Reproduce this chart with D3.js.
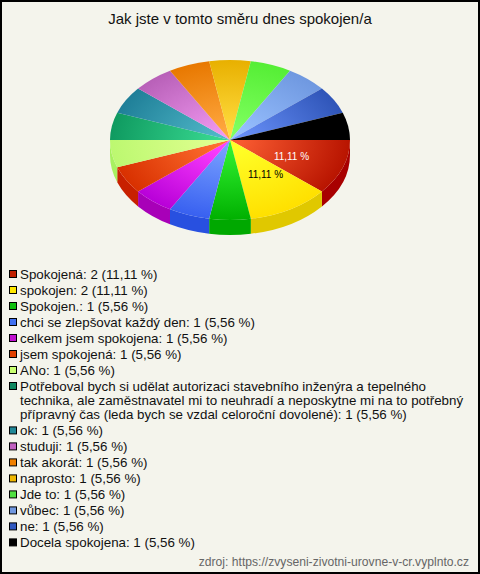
<!DOCTYPE html>
<html><head><meta charset="utf-8">
<script src="https://cdn.jsdelivr.net/npm/d3@7"></script>
<style>html,body{margin:0;padding:0;background:#f4f4ec}svg{display:block}text{font-family:"Liberation Sans",Arial,sans-serif}</style>
</head><body><div id="c"></div>
<script>
const title = "Jak jste v tomto směru dnes spokojen/a";
const source = "zdroj: https://zvyseni-zivotni-urovne-v-cr.vyplnto.cz";
const categories = ["Spokojená","spokojen","Spokojen.","chci se zlepšovat každý den","celkem jsem spokojena","jsem spokojená","ANo",
"Potřeboval bych si udělat autorizaci stavebního inženýra a tepelného technika, ale zaměstnavatel mi to neuhradí a neposkytne mi na to potřebný přípravný čas (leda bych se vzdal celoroční dovolené)",
"ok","studuji","tak akorát","naprosto","Jde to","vůbec","ne","Docela spokojena"];
const counts = [2,2,1,1,1,1,1,1,1,1,1,1,1,1,1,1];
const percents = ["11,11","11,11","5,56","5,56","5,56","5,56","5,56","5,56","5,56","5,56","5,56","5,56","5,56","5,56","5,56","5,56"];
const legendColors = ["#c02000","#ffe800","#10c010","#4070f0","#c010d0","#e04000","#c8ff70","#108860","#208898","#c060c0","#f08000","#f0b800","#50e040","#7098e0","#3058c0","#000000"];
const rimColors = ["#b81400","#ffe000","#00b000","#3860f0","#b800d8","#d83000","#bcf870","#0f9a60","#1f7f98","#b860b8","#e87800","#e8b000","#55ee35","#6f98e0","#2f55b8","#000000"];
const midColors = ["#f85a30","#ffff28","#30f030","#78a0ff","#ff40ff","#ff7030","#e0ff90","#38d890","#50b8c8","#f098f0","#ffa840","#ffdc40","#80ff60","#98c0ff","#6890f8","#000000"];
const sideColors = ["#a80000","#e0c800","#00a800","#2850e0","#a800b8","#c82000","#a8f060","#008850","#106878","#a04098","#c86000","#c89800","#40c020","#5078c0","#2040a0","#000000"];
const W=480,H=574,cx=230,cy=140,rx=120,ry=80,depth=15;
const svg=d3.select("#c").append("svg").attr("width",W).attr("height",H);
svg.append("rect").attr("x",1).attr("y",1).attr("width",W-2).attr("height",H-2).attr("fill","#f4f4ec").attr("stroke","#000").attr("stroke-width",2);
svg.append("text").attr("x",240).attr("y",24).attr("text-anchor","middle").attr("font-size",15).attr("fill","#111").text(title);
const pie=d3.pie().sort(null).startAngle(Math.PI/2).endAngle(Math.PI/2+2*Math.PI).value(d=>d);
const arcs=pie(counts);
const arc=d3.arc().innerRadius(0).outerRadius(rx);
const defs=svg.append("defs");
arcs.forEach((a,i)=>{const g=defs.append("radialGradient").attr("id","g"+i).attr("gradientUnits","userSpaceOnUse").attr("cx",0).attr("cy",0).attr("r",rx);
 g.append("stop").attr("offset",0.1).attr("stop-color",midColors[i]);
 g.append("stop").attr("offset",1).attr("stop-color",rimColors[i]);
});
const px=t=>cx+rx*Math.sin(t), py=t=>cy-ry*Math.cos(t);
const sides=svg.append("g");
arcs.forEach((a,i)=>{
 const s=Math.max(a.startAngle,Math.PI/2), e=Math.min(a.endAngle,3*Math.PI/2);
 if(e<=s)return;
 const x0=px(s),y0=py(s),x1=px(e),y1=py(e);
 const d=`M${x0},${y0}A${rx},${ry} 0 0 1 ${x1},${y1}L${x1},${y1+depth}A${rx},${ry} 0 0 0 ${x0},${y0+depth}Z`;
 sides.append("path").attr("d",d).attr("fill",sideColors[i]);
});
const topFace=svg.append("g").attr("transform",`translate(${cx},${cy}) scale(1,${ry/rx})`);
topFace.selectAll("path").data(arcs).join("path").attr("d",arc).attr("fill",(d,i)=>`url(#g${i})`);
[0,1].forEach(i=>{
 svg.append("text").attr("text-anchor","middle").attr("font-size",10).attr("fill",i?"#000":"#fff")
 .attr("x",i==0?291.5:265.5).attr("y",i==0?160:178).text(percents[i]+" %");});
const leg=svg.append("g");
let y=274;const lh=16,wrap=14.2;
categories.forEach((c,i)=>{
 const full=`${c}: ${counts[i]} (${percents[i]} %)`;
 leg.append("rect").attr("x",9.5).attr("y",y-3.5).attr("width",7).attr("height",7).attr("fill",legendColors[i]).attr("stroke","#000");
 const t=leg.append("text").attr("x",20).attr("y",y+4.7).attr("font-size",13.33).attr("fill","#111");
 let line="";
 const ts=[];
 full.split(" ").forEach(w=>{
  const tr=line?line+" "+w:w;
  t.text(tr);
  if(t.node().getComputedTextLength()>450&&line){ts.push(line);line=w;}else line=tr;
 });
 ts.push(line);
 t.text("");
 ts.forEach((l,k)=>t.append("tspan").attr("x",20).attr("y",y+4.7+k*wrap).text(l));
 y+=lh+(ts.length-1)*wrap;
});
svg.append("text").attr("x",469).attr("y",566).attr("text-anchor","end").attr("font-size",12.13).attr("fill","#666").text(source);
</script></body></html>
